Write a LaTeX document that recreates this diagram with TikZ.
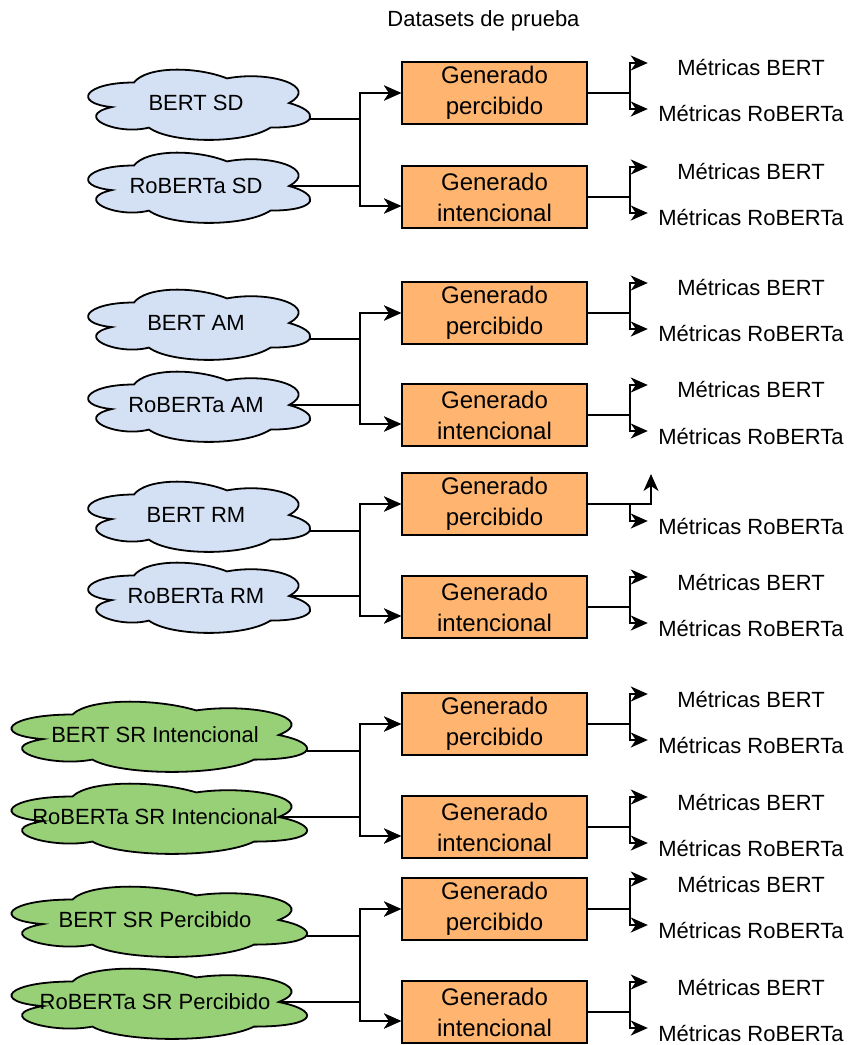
\documentclass[tikz,border=0pt]{standalone}
\usepackage{fontspec}
\setmainfont{Liberation Sans}
\usetikzlibrary{arrows.meta}
\definecolor{cloudblue}{HTML}{D4E1F5}
\definecolor{cloudgreen}{HTML}{97D077}
\definecolor{boxorange}{HTML}{FFB570}
\tikzset{
  conn/.style={line width=2pt, draw=black},
  arr/.style={conn, -{Stealth[length=17pt,width=15pt,inset=5pt]}},
  genbox/.style={draw, line width=1.8pt, fill=boxorange, minimum width=185pt, minimum height=62pt, inner sep=0pt, align=center, font=\fontsize{24}{31}\selectfont},
  metric/.style={font=\fontsize{22}{26}\selectfont, minimum width=206pt, inner sep=0pt},
  cloudtext/.style={font=\fontsize{22}{26}\selectfont, inner sep=0pt},
  cloudline/.style={line width=1.8pt, draw=black},
  titletext/.style={font=\fontsize{22}{26}\selectfont, inner sep=0pt},
}
% #1 name, #2 cx, #3 cy, #4 width, #5 fill, #6 text
\newcommand\drawcloud[6]{%
  \begin{scope}[shift={(#2-#4/2,#3-41)}, x=#4pt, y=-82pt]
    \draw[cloudline, fill=#5] (0.25,0.25) .. controls (0.05,0.25) and (0,0.5) .. (0.16,0.55)
      .. controls (0,0.66) and (0.18,0.9) .. (0.31,0.8)
      .. controls (0.4,1) and (0.7,1) .. (0.8,0.8)
      .. controls (1,0.8) and (1,0.6) .. (0.875,0.5)
      .. controls (1,0.3) and (0.8,0.1) .. (0.625,0.2)
      .. controls (0.5,0.05) and (0.3,0.05) .. (0.25,0.25) -- cycle;
    \coordinate (#1-b) at (0.875,0.5);
  \end{scope}
  \coordinate (#1-a) at (#2-#4/2+0.96*#4,#3+16);
  \node[cloudtext] (#1) at (#2,#3) {#6};
}
% #1 box name, #2 y
\newcommand\metricpair[2]{%
  \node[metric] (#1-mb) at (751,#2-25) {Métricas BERT};
  \node[metric] (#1-mr) at (751,#2+21) {Métricas RoBERTa};
  \draw[arr] (#1.east) -- ++(42,0) |- ([yshift=5pt]#1-mb.west);
  \draw[arr] (#1.east) ++(42,0) |- ([yshift=5pt]#1-mr.west);
}
% #1 cloud1, #2 cloud2, #3 box1, #4 box2
\newcommand\joinclouds[4]{%
  \draw[arr] (#1-a) -| ([xshift=-41pt]#3.west) -- (#3.west);
  \draw[arr] (#1-a) -| ([xshift=-41pt,yshift=-9pt]#4.west) -- ([yshift=-9pt]#4.west);
  \draw[arr] (#2-b) -| ([xshift=-41pt]#3.west) -- (#3.west);
  \draw[arr] (#2-b) -| ([xshift=-41pt,yshift=-9pt]#4.west) -- ([yshift=-9pt]#4.west);
}
\begin{document}
\begin{tikzpicture}[x=1pt,y=-1pt]
\useasboundingbox (0,0) rectangle (850,1045);
\node[titletext] (title) at (483.5,21) {Datasets de prueba};

% clouds
\drawcloud{k1}{196}{103}{248}{cloudblue}{BERT SD}
\drawcloud{k2}{196}{186}{248}{cloudblue}{RoBERTa SD}
\drawcloud{k3}{196}{323}{248}{cloudblue}{BERT AM}
\drawcloud{k4}{196}{405}{248}{cloudblue}{RoBERTa AM}
\drawcloud{k5}{196}{515}{248}{cloudblue}{BERT RM}
\drawcloud{k6}{196}{596}{248}{cloudblue}{RoBERTa RM}
\drawcloud{k7}{155}{735}{330}{cloudgreen}{BERT SR Intencional}
\drawcloud{k8}{155}{817}{330}{cloudgreen}{RoBERTa SR Intencional}
\drawcloud{k9}{155}{920}{330}{cloudgreen}{BERT SR Percibido}
\drawcloud{k10}{155}{1002}{330}{cloudgreen}{RoBERTa SR Percibido}

% boxes
\node[genbox] (b1p) at (494.5,93) {Generado\\percibido};
\node[genbox] (b1i) at (494.5,197) {Generado\\intencional};
\node[genbox] (b2p) at (494.5,313) {Generado\\percibido};
\node[genbox] (b2i) at (494.5,415) {Generado\\intencional};
\node[genbox] (b3p) at (494.5,504) {Generado\\percibido};
\node[genbox] (b3i) at (494.5,607) {Generado\\intencional};
\node[genbox] (b4p) at (494.5,724) {Generado\\percibido};
\node[genbox] (b4i) at (494.5,827) {Generado\\intencional};
\node[genbox] (b5p) at (494.5,909) {Generado\\percibido};
\node[genbox] (b5i) at (494.5,1012) {Generado\\intencional};

% cloud -> box connectors
\joinclouds{k1}{k2}{b1p}{b1i}
\joinclouds{k3}{k4}{b2p}{b2i}
\joinclouds{k5}{k6}{b3p}{b3i}
\joinclouds{k7}{k8}{b4p}{b4i}
\joinclouds{k9}{k10}{b5p}{b5i}

% metrics
\metricpair{b1p}{93}
\metricpair{b1i}{197}
\metricpair{b2p}{313}
\metricpair{b2i}{415}
\node[metric] (b3p-mr) at (751,526) {Métricas RoBERTa};
\coordinate (up3) at (651,474);
\draw[arr] (b3p.east) -| (up3);
\draw[arr] (b3p.east) ++(42,0) |- ([yshift=5pt]b3p-mr.west);
\metricpair{b3i}{607}
\metricpair{b4p}{724}
\metricpair{b4i}{827}
\metricpair{b5p}{909}
\metricpair{b5i}{1012}
\end{tikzpicture}
\end{document}
